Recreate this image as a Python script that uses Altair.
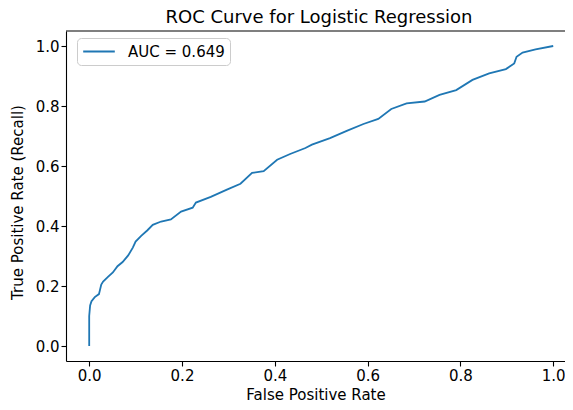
import altair as alt
import pandas as pd

# ROC curve points
fpr = [0.0, 0.0, 0.002, 0.005, 0.012, 0.021, 0.026, 0.030, 0.041, 0.051, 0.061,
       0.072, 0.084, 0.094, 0.100, 0.112, 0.125, 0.137, 0.155, 0.176, 0.198,
       0.223, 0.230, 0.262, 0.298, 0.326, 0.351, 0.376, 0.405, 0.433, 0.466,
       0.480, 0.519, 0.555, 0.591, 0.623, 0.651, 0.684, 0.723, 0.755, 0.791,
       0.826, 0.862, 0.898, 0.916, 0.921, 0.934, 0.962, 1.0]
tpr = [0.0, 0.10, 0.135, 0.149, 0.163, 0.173, 0.205, 0.215, 0.231, 0.245, 0.266,
       0.280, 0.302, 0.328, 0.348, 0.367, 0.385, 0.404, 0.415, 0.422, 0.448,
       0.461, 0.478, 0.497, 0.522, 0.541, 0.577, 0.583, 0.621, 0.640, 0.660,
       0.671, 0.693, 0.717, 0.740, 0.757, 0.790, 0.809, 0.815, 0.837, 0.853,
       0.887, 0.909, 0.923, 0.942, 0.964, 0.978, 0.989, 1.0]
series_label = "AUC = 0.649"
tick_values = [0.0, 0.2, 0.4, 0.6, 0.8, 1.0]

df = pd.DataFrame({"fpr": fpr, "tpr": tpr, "idx": list(range(len(fpr))),
                   "series": [series_label] * len(fpr)})

FONT = "DejaVu Sans"
W, H = 499, 330

x_scale = alt.Scale(domain=[-0.05, 1.0254], nice=False, zero=False)
y_scale = alt.Scale(domain=[-0.05, 1.05], nice=False, zero=False)

line = alt.Chart(df).mark_line(strokeWidth=1.8, clip=True).encode(
    x=alt.X("fpr:Q", scale=x_scale,
            axis=alt.Axis(title="False Positive Rate", values=tick_values, format=".1f",
                          titleY=38, titleBaseline="alphabetic")),
    y=alt.Y("tpr:Q", scale=y_scale,
            axis=alt.Axis(title="True Positive Rate (Recall)", values=tick_values, format=".1f",
                          titleX=-49, titleY=171, titleBaseline="middle", titleAngle=270)),
    order="idx:Q",
    color=alt.Color("series:N", scale=alt.Scale(range=["#1f77b4"]),
                    legend=alt.Legend(title=None, orient="none", legendX=11, legendY=7,
                                      symbolType="stroke", symbolSize=1000, clipHeight=17,
                                      symbolStrokeWidth=1.8, labelFontSize=15,
                                      labelFont=FONT, labelColor="black", labelOffset=12,
                                      padding=5, fillColor="white", strokeColor="#cccccc",
                                      cornerRadius=4)),
)

# top spine of the frame (pixel positions of the plot box, not data)
top_frame = alt.Chart(df.head(1)).mark_rule(color="black", strokeWidth=1.1).encode(
    x=alt.value(0), x2=alt.value(W), y=alt.value(0)
)

chart = alt.layer(line, top_frame).properties(
    width=W, height=H,
    autosize=alt.AutoSizeParams(type="none"),
    padding={"left": 58, "top": 23, "right": 0, "bottom": 39},
    title=alt.TitleParams("ROC Curve for Logistic Regression", font=FONT, fontSize=18,
                          fontWeight="normal", color="black", anchor="middle",
                          baseline="alphabetic", offset=9, dx=3.5, dy=20),
).configure_view(stroke=None).configure_axis(
    grid=False, domainColor="black", domainWidth=1.1, tickColor="black", tickWidth=1.1,
    tickSize=5, labelFont=FONT, labelFontSize=15, labelColor="black", labelPadding=2,
    titleFont=FONT, titleFontSize=15, titleFontWeight="normal", titleColor="black",
)

chart.save("out.html", embed_options={"renderer": "svg", "actions": False})
